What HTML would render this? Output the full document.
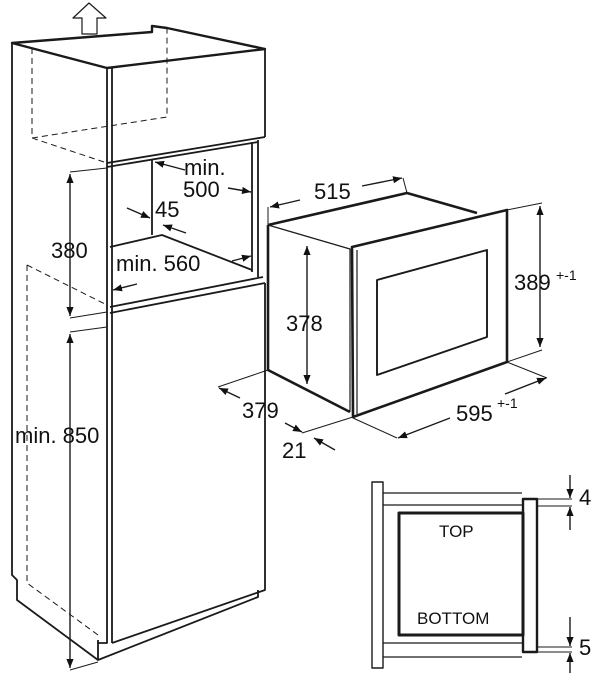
<!DOCTYPE html>
<html><head><style>
html,body{margin:0;padding:0;background:#fff;}
svg{display:block;}
text{font-family:"Liberation Sans",sans-serif;fill:#111;}
</style></head><body>
<svg width="600" height="673" viewBox="0 0 600 673" xmlns="http://www.w3.org/2000/svg">
<defs>
<marker id="a" viewBox="0 0 10 10" refX="10" refY="5" markerWidth="9" markerHeight="9" orient="auto-start-reverse" markerUnits="userSpaceOnUse"><path d="M0,1 L10,5 L0,9 Z" fill="#111"/></marker>
</defs>
<g fill="none" stroke="#1a1a1a" stroke-width="1.8" stroke-linejoin="round">
<path d="M73,18 L89,3 L106,18 L97,18 L97,34 L82,34 L82,18 Z" stroke-width="1.2"/>
<path d="M12,43 L152,32 L152,26 L167,28 L265,49 L107,68 Z" stroke-width="2.4"/>
<path d="M12,43 L12,575 L17,580 L17,600 L98,660 L98,640"/>
<path d="M98,660 L258,597 L258,590"/>
<path d="M107,68 L107,643 L98,643"/>
<path d="M112,68 L112,643"/>
<path d="M265,49 L265,137"/>
<path d="M107,163 L265,137 M107,167 L258,142"/>
<path d="M252,142 L252,272 M258,140 L258,277"/>
<path d="M152,160 L152,235"/>
<path d="M110,247 L162,235 L252,270"/>
<path d="M110,307 L263,277 M110,313 L265,283"/>
<path d="M112,643 L265,590 L265,283"/>
<g stroke-dasharray="6,4" stroke-width="1">
<path d="M32,48 L32,138 L107,163 M32,138 L167,117 L167,28"/>
<path d="M27,265 L27,583 L98,635 M27,265 L107,305"/>
</g>
<g stroke-width="1">
<path d="M70,172 L107,168 M70,318 L107,312 M70,332 L107,327 M70,670 L98,662"/>
</g>
<g stroke-width="1.4">
<path d="M70,174 L70,316" marker-start="url(#a)" marker-end="url(#a)"/>
<path d="M70,334 L70,668" marker-start="url(#a)" marker-end="url(#a)"/>
<path d="M185,170 L155,162" marker-end="url(#a)"/>
<path d="M228,188 L251,192" marker-end="url(#a)"/>
<path d="M127,208 L150,218" marker-end="url(#a)"/>
<path d="M186,233 L163,225" marker-end="url(#a)"/>
<path d="M232,261 L251,256" marker-end="url(#a)"/>
<path d="M137,284 L113,290" marker-end="url(#a)"/>
</g>
<path d="M268,225 L407,193 L477,213" stroke-width="2.6"/>
<path d="M268,225 L268,370 L350,412" stroke-width="2.6"/>
<path d="M268,225 L350,249 L350,412" stroke-width="1.2"/>
<path d="M352,247 L507,210 L507,362 L353,417 Z" stroke-width="2.6"/>
<path d="M357,250 L357,414" stroke-width="1.2"/>
<path d="M377,280 L487,250 L487,337 L377,375 Z" stroke-width="1.9"/>
<g stroke-width="1">
<path d="M268,207 L268,225 M403,178 L407,193"/>
<path d="M507,210 L542,203 M507,362 L542,350"/>
<path d="M218,387 L268,370 M302,433 L353,417"/>
<path d="M353,418 L397,438 M507,362 L547,378"/>
</g>
<g stroke-width="1.4">
<path d="M300,200 L270,207" marker-end="url(#a)"/>
<path d="M362,186 L402,178" marker-end="url(#a)"/>
<path d="M540,206 L540,347" marker-start="url(#a)" marker-end="url(#a)"/>
<path d="M307,246 L307,384" marker-start="url(#a)" marker-end="url(#a)"/>
<path d="M240,398 L219,388" marker-end="url(#a)"/>
<path d="M285,423 L302,432" marker-end="url(#a)"/>
<path d="M335,450 L314,438" marker-end="url(#a)"/>
<path d="M450,418 L398,438" marker-end="url(#a)"/>
<path d="M505,394 L546,378" marker-end="url(#a)"/>
</g>
<rect x="372" y="482" width="11" height="186" stroke-width="1.4"/>
<path d="M383,493 L522,493 M383,505 L522,505 M383,643 L522,643 M383,657 L522,657" stroke-width="1.3"/>
<rect x="399" y="513" width="124" height="122" stroke-width="3"/>
<rect x="523" y="499" width="14" height="153" stroke-width="2.4"/>
<path d="M537,499 L572,499 M537,506 L572,506 M537,647 L572,647 M537,652 L572,652" stroke-width="1"/>
<g stroke-width="1.4">
<path d="M570,475 L570,498" marker-end="url(#a)"/>
<path d="M570,530 L570,507" marker-end="url(#a)"/>
<path d="M570,617 L570,646" marker-end="url(#a)"/>
<path d="M570,673 L570,653" marker-end="url(#a)"/>
</g>
</g>
<g font-size="22">
<text x="51" y="258">380</text>
<text x="15" y="443">min. 850</text>
<text x="184" y="175">min.</text>
<text x="183" y="197">500</text>
<text x="155" y="217">45</text>
<text x="116" y="271">min. 560</text>
<text x="314" y="199">515</text>
<text x="514" y="290">389</text>
<text x="556" y="280" font-size="14">+-1</text>
<text x="286" y="331">378</text>
<text x="242" y="418">379</text>
<text x="282" y="458">21</text>
<text x="456" y="421">595</text>
<text x="497" y="408" font-size="14">+-1</text>
<text x="579" y="505">4</text>
<text x="579" y="655">5</text>
</g>
<g font-size="17">
<text x="439" y="537">TOP</text>
<text x="417" y="624">BOTTOM</text>
</g>
</svg>
</body></html>
